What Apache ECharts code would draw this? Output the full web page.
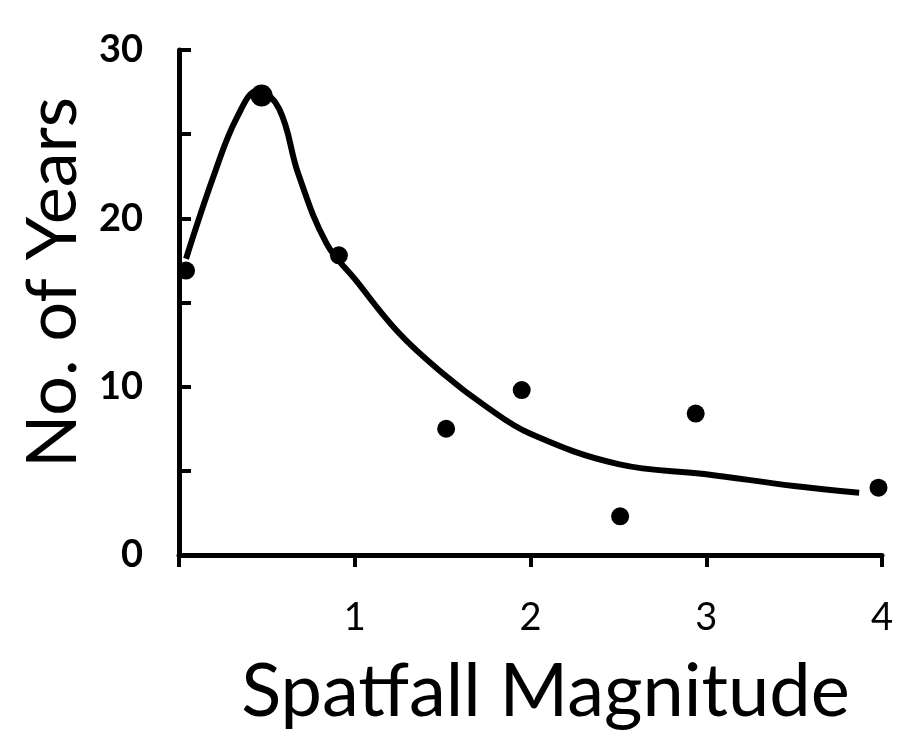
<!DOCTYPE html>
<html>
<head>
<meta charset="utf-8">
<script src="https://cdn.jsdelivr.net/npm/echarts@6/dist/echarts.min.js"></script>
<style>
html,body{margin:0;padding:0;background:#fff;}
#chart{width:908px;height:745px;}
</style>
</head>
<body>
<div id="chart"></div>
<script>
/*观测点：震级 与 年数*/
var dotX = [0.04, 0.47, 0.91, 1.52, 1.95, 2.51, 2.94, 3.98];
var dotY = [16.9, 27.3, 17.8, 7.5, 9.8, 2.3, 8.4, 4.0];

/*手绘拟合曲线*/
var curveX = [0.04, 0.2, 0.33, 0.45, 0.57, 0.68, 0.84, 1.0, 1.25, 1.5, 1.75, 2.0, 2.5, 3.0, 3.5, 3.87];
var curveY = [17.6, 22.6, 26.0, 27.6, 26.5, 22.6, 18.5, 16.4, 13.2, 10.8, 8.8, 7.2, 5.4, 4.8, 4.1, 3.7];

var xTicks = [1, 2, 3, 4];
var yTicks = [0, 10, 20, 30];

function pairs(xs, ys){
    var out = [];
    for(var i=0;i<xs.length;i++){ out.push([xs[i], ys[i]]); }
    return out;
}

var myChart = echarts.init(document.getElementById('chart'));
myChart.setOption({
    animation:false,
    backgroundColor:'#fff',
    grid:{left:179, right:26, top:50, bottom:190, outerBoundsMode:'none', containLabel:false},
    xAxis:{
        type:'value', min:0, max:4, interval:1,
        name:'Spatfall Magnitude',
        nameLocation:'middle', nameGap:100,
        nameTextStyle:{fontFamily:'Lato', fontSize:74, color:'#000', padding:[0,0,0,30]},
        axisLine:{lineStyle:{color:'#000', width:5}},
        axisTick:{show:true, length:12, lineStyle:{color:'#000', width:4}},
        axisLabel:{
            margin:44, fontFamily:'Lato', fontSize:38, color:'#000',
            formatter:function(v){ return xTicks.indexOf(v) >= 0 ? String(v) : ''; }
        },
        splitLine:{show:false}
    },
    yAxis:{
        type:'value', min:0, max:30, interval:5,
        name:'No. of Years',
        nameLocation:'middle', nameGap:88, nameRotate:90,
        nameTextStyle:{fontFamily:'Lato', fontSize:70, color:'#000', padding:[0,0,0,40]},
        axisLine:{show:true, lineStyle:{color:'#000', width:5}},
        axisTick:{show:true, inside:true, length:12, lineStyle:{color:'#000', width:4}},
        axisLabel:{
            margin:36, fontFamily:'Lato', fontWeight:'bold', fontSize:38, color:'#000',
            formatter:function(v){ return yTicks.indexOf(v) >= 0 ? String(v) : ''; }
        },
        splitLine:{show:false}
    },
    series:[
        {
            type:'line',
            data:pairs(curveX, curveY),
            smooth:0.4,
            showSymbol:false,
            lineStyle:{color:'#000', width:6}
        },
        {
            type:'scatter',
            data:pairs(dotX, dotY),
            symbolSize:function(v){ return v[1] > 25 ? 22 : 18; },
            itemStyle:{color:'#000', opacity:1}
        }
    ]
});
</script>
</body>
</html>
